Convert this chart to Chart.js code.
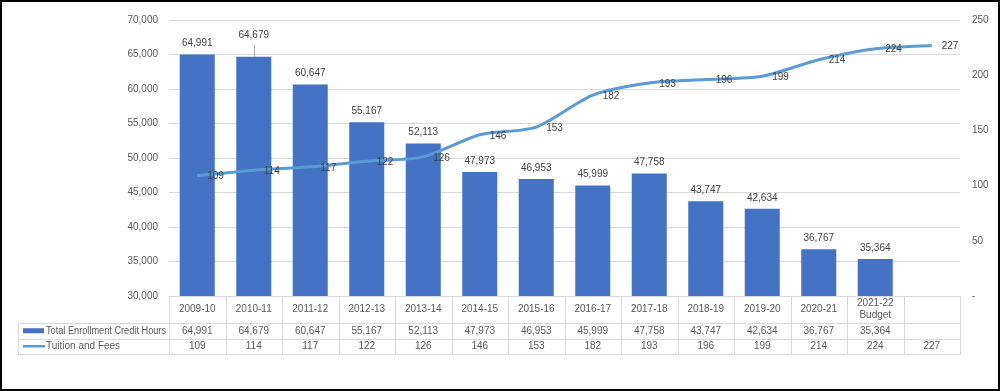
<!DOCTYPE html>
<html>
<head>
<meta charset="utf-8">
<script src="https://cdn.jsdelivr.net/npm/chart.js@4/dist/chart.umd.min.js"></script>
<style>
  html, body { margin: 0; padding: 0; background: #fff; }
  .frame { width: 1000px; height: 391px; box-sizing: border-box; border: 2px solid #000; background: #fff; }
  canvas { display: block; }
</style>
</head>
<body>
<div class="frame"><canvas id="chart" width="996" height="387"></canvas></div>
<script>
// values
const categories = [
  ['2009-10'], ['2010-11'], ['2011-12'], ['2012-13'], ['2013-14'], ['2014-15'], ['2015-16'],
  ['2016-17'], ['2017-18'], ['2018-19'], ['2019-20'], ['2020-21'], ['2021-22', 'Budget'], ['']
];
const enrollmentLabel = 'Total Enrollment Credit Hours';
const enrollment = [64991, 64679, 60647, 55167, 52113, 47973, 46953, 45999, 47758, 43747, 42634, 36767, 35364, null];
const tuitionLabel = 'Tuition and Fees';
const tuition = [109, 114, 117, 122, 126, 146, 153, 182, 193, 196, 199, 214, 224, 227];
const leftTicks = [30000, 35000, 40000, 45000, 50000, 55000, 60000, 65000, 70000];
const rightTicks = [0, 50, 100, 150, 200, 250];

const barColor = '#4472C4';
const lineColor = '#5B9BD5';
const axisText = '#595959';
const labelText = '#404040';
const gridColor = '#d9d9d9';
const fontFamily = "'Liberation Sans', Arial, sans-serif";

const fmt = v => v.toLocaleString('en-US');

Chart.defaults.font.family = fontFamily;
Chart.defaults.color = axisText;

// value labels on the bars and the line
const valueLabels = {
  id: 'valueLabels',
  afterDatasetsDraw(chart) {
    const ctx = chart.ctx;
    ctx.save();
    ctx.font = '10px ' + fontFamily;
    ctx.fillStyle = labelText;
    ctx.textBaseline = 'middle';

    const bars = chart.getDatasetMeta(0).data;
    ctx.textAlign = 'center';
    bars.forEach((bar, i) => {
      if (enrollment[i] == null) return;
      if (i === 1) {
        // this one sits higher, with a leader line
        ctx.strokeStyle = '#a6a6a6';
        ctx.lineWidth = 1;
        ctx.beginPath();
        ctx.moveTo(Math.round(bar.x) + 0.5, bar.y - 12);
        ctx.lineTo(Math.round(bar.x) + 0.5, bar.y);
        ctx.stroke();
        ctx.fillText(fmt(enrollment[i]), bar.x, bar.y - 21);
      } else {
        ctx.fillText(fmt(enrollment[i]), bar.x, bar.y - 11);
      }
    });

    const pts = chart.getDatasetMeta(1).data;
    ctx.textAlign = 'left';
    pts.forEach((p, i) => {
      ctx.fillText(String(tuition[i]), p.x + 10, p.y + 1);
    });
    ctx.restore();
  }
};

// text squeezed into a given width if it would overflow
function fitText(ctx, text, x, y, maxW) {
  const w = ctx.measureText(text).width;
  if (w <= maxW) { ctx.fillText(text, x, y); return; }
  ctx.save();
  ctx.translate(x, y);
  ctx.scale(maxW / w, 1);
  ctx.fillText(text, 0, 0);
  ctx.restore();
}

// data table under the plot
const dataTable = {
  id: 'dataTable',
  afterDraw(chart) {
    const ctx = chart.ctx;
    const xs = chart.scales.x;
    const area = chart.chartArea;
    const step = xs.getPixelForValue(1) - xs.getPixelForValue(0);
    const top = area.bottom;
    const headBottom = top + 27;
    const row1Bottom = headBottom + 15.5;
    const row2Bottom = row1Bottom + 15.5;
    const tableLeft = 16;

    ctx.save();
    ctx.strokeStyle = gridColor;
    ctx.lineWidth = 1;
    ctx.beginPath();
    // horizontal lines
    ctx.moveTo(area.left, Math.round(top) + 0.5);
    ctx.lineTo(area.right, Math.round(top) + 0.5);
    [headBottom, row1Bottom, row2Bottom].forEach(y => {
      ctx.moveTo(tableLeft, Math.round(y) + 0.5);
      ctx.lineTo(area.right, Math.round(y) + 0.5);
    });
    // vertical lines
    ctx.moveTo(tableLeft + 0.5, Math.round(headBottom));
    ctx.lineTo(tableLeft + 0.5, Math.round(row2Bottom) + 1);
    for (let i = 0; i <= categories.length; i++) {
      const x = Math.round(xs.getPixelForValue(i) - step / 2) + 0.5;
      ctx.moveTo(x, Math.round(top));
      ctx.lineTo(x, Math.round(row2Bottom) + 1);
    }
    ctx.stroke();

    ctx.font = '10px ' + fontFamily;
    ctx.fillStyle = axisText;
    ctx.textAlign = 'center';
    ctx.textBaseline = 'middle';
    const r1 = (headBottom + row1Bottom) / 2;
    const r2 = (row1Bottom + row2Bottom) / 2;
    categories.forEach((lines, i) => {
      const x = xs.getPixelForValue(i);
      const mid = (top + headBottom) / 2;
      lines.forEach((t, k) => {
        ctx.fillText(t, x, mid + (k - (lines.length - 1) / 2) * 12);
      });
      if (enrollment[i] != null) ctx.fillText(fmt(enrollment[i]), x, r1);
      if (tuition[i] != null) ctx.fillText(String(tuition[i]), x, r2);
    });

    // legend keys and row names
    ctx.fillStyle = barColor;
    ctx.fillRect(tableLeft + 5, r1 - 2.5, 21, 5);
    ctx.strokeStyle = lineColor;
    ctx.lineWidth = 2.5;
    ctx.beginPath();
    ctx.moveTo(tableLeft + 5, r2);
    ctx.lineTo(tableLeft + 27, r2);
    ctx.stroke();

    ctx.fillStyle = axisText;
    ctx.textAlign = 'left';
    ctx.font = '10px ' + fontFamily;
    const textX = tableLeft + 28;
    const maxW = area.left - 3 - textX;
    fitText(ctx, enrollmentLabel, textX, r1, maxW);
    fitText(ctx, tuitionLabel, textX, r2, maxW);
    ctx.restore();
  }
};

new Chart(document.getElementById('chart'), {
  type: 'bar',
  data: {
    labels: categories.map(c => c.join(' ')),
    datasets: [
      {
        type: 'bar',
        label: enrollmentLabel,
        data: enrollment,
        backgroundColor: barColor,
        barPercentage: 0.62,
        categoryPercentage: 1,
        yAxisID: 'y',
        order: 1,
      },
      {
        type: 'line',
        label: tuitionLabel,
        data: tuition,
        borderColor: lineColor,
        borderWidth: 3,
        pointRadius: 0,
        tension: 0.25,
        fill: false,
        yAxisID: 'y1',
        order: 0,
      },
    ],
  },
  options: {
    responsive: false,
    animation: false,
    layout: { padding: { top: 16, bottom: 93, left: 0, right: 0 } },
    plugins: {
      legend: { display: false },
      tooltip: { enabled: false },
    },
    scales: {
      x: {
        display: false,
        offset: true,
      },
      y: {
        position: 'left',
        min: leftTicks[0],
        max: leftTicks[leftTicks.length - 1],
        afterBuildTicks: s => { s.ticks = leftTicks.map(v => ({ value: v })); },
        afterFit: s => { s.width = 167; },
        border: { display: false },
        grid: { color: gridColor, drawTicks: false },
        ticks: {
          padding: 11,
          font: { size: 10 },
          color: axisText,
          callback: v => fmt(v),
        },
      },
      y1: {
        position: 'right',
        min: rightTicks[0],
        max: rightTicks[rightTicks.length - 1],
        afterBuildTicks: s => { s.ticks = rightTicks.map(v => ({ value: v })); },
        afterFit: s => { s.width = 38; },
        border: { display: false },
        grid: { display: false, drawTicks: false },
        ticks: {
          padding: 12,
          font: { size: 10 },
          color: axisText,
          callback: v => (v === 0 ? '-' : String(v)),
        },
      },
    },
  },
  plugins: [valueLabels, dataTable],
});
</script>
</body>
</html>
